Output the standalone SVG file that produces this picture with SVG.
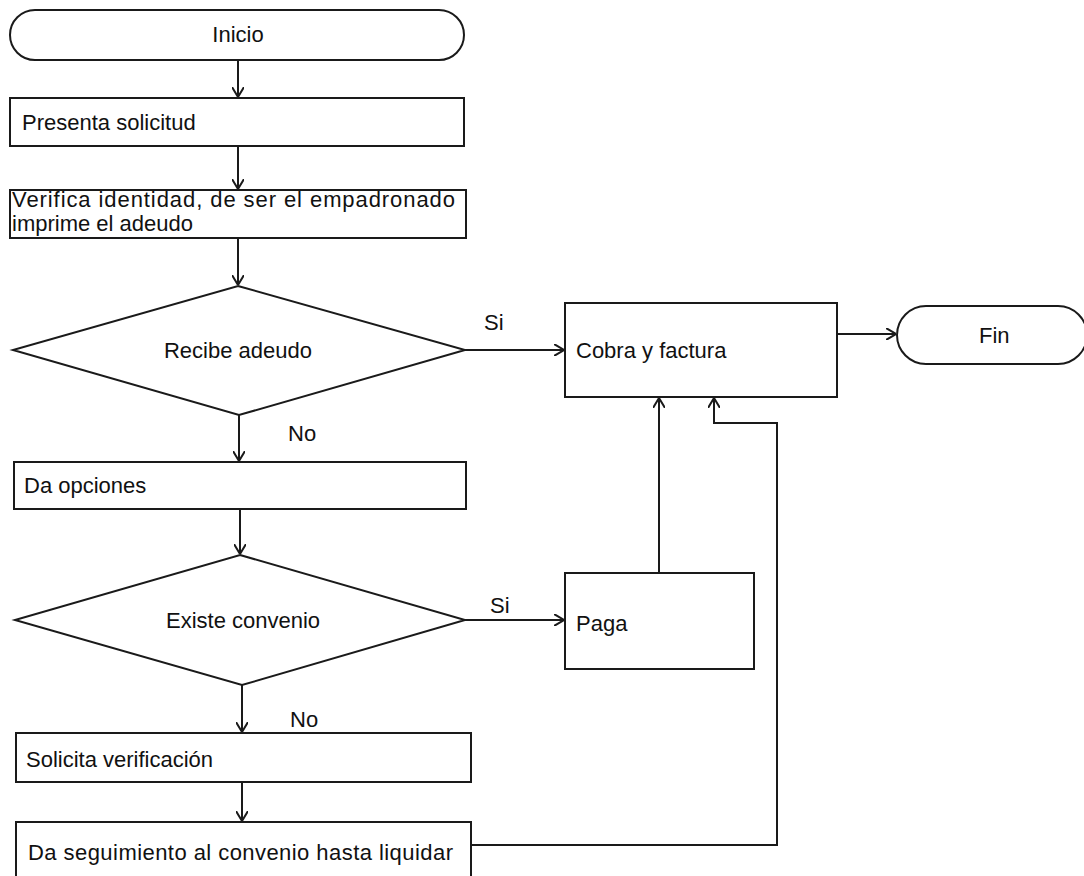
<svg xmlns="http://www.w3.org/2000/svg" width="1084" height="876" viewBox="0 0 1084 876">
<style>
.s{fill:#fff;stroke:#1a1a1a;stroke-width:2}
.c{fill:none;stroke:#1a1a1a;stroke-width:2}
.t{font-family:"Liberation Sans",Arial,sans-serif;font-size:22px;fill:#111}
.m{text-anchor:middle}
</style>
<defs>
<marker id="a" viewBox="0 0 10 12" refX="10" refY="6" markerWidth="10" markerHeight="12" markerUnits="userSpaceOnUse" orient="auto">
<path d="M0,0 L10,6 L0,12" fill="none" stroke="#1a1a1a" stroke-width="2"/>
</marker>
</defs>
<rect width="1084" height="876" fill="#fff"/>
<g id="connectors">
<line class="c" x1="238" y1="60" x2="238" y2="97" marker-end="url(#a)"/>
<line class="c" x1="238" y1="146" x2="238" y2="189" marker-end="url(#a)"/>
<line class="c" x1="238" y1="238" x2="238" y2="285" marker-end="url(#a)"/>
<line class="c" x1="239" y1="415" x2="239" y2="461" marker-end="url(#a)"/>
<line class="c" x1="240" y1="509" x2="240" y2="554" marker-end="url(#a)"/>
<line class="c" x1="242" y1="685" x2="242" y2="732" marker-end="url(#a)"/>
<line class="c" x1="242" y1="782" x2="242" y2="821" marker-end="url(#a)"/>
<line class="c" x1="465" y1="350" x2="564" y2="350" marker-end="url(#a)"/>
<line class="c" x1="465" y1="620" x2="564" y2="620" marker-end="url(#a)"/>
<line class="c" x1="659" y1="573" x2="659" y2="398" marker-end="url(#a)"/>
<line class="c" x1="837" y1="334" x2="896" y2="334" marker-end="url(#a)"/>
<polyline class="c" points="471,845 777,845 777,423 714,423 714,398" marker-end="url(#a)"/>
<text class="t" x="484" y="330">Si</text>
<text class="t" x="288" y="441">No</text>
<text class="t" x="490" y="613">Si</text>
<text class="t" x="290" y="727">No</text>
</g>
<g id="inicio">
<rect class="s" x="10" y="10" width="454" height="50" rx="25"/>
<text class="t m" x="238" y="42">Inicio</text>
</g>
<g id="presenta">
<rect class="s" x="10" y="98" width="454" height="48"/>
<text class="t" x="22" y="130">Presenta solicitud</text>
</g>
<g id="verifica">
<rect class="s" x="10" y="190" width="456" height="48"/>
<text class="t" x="12" y="207" textLength="443" lengthAdjust="spacing">Verifica identidad, de ser el empadronado</text>
<text class="t" x="12" y="231">imprime el adeudo</text>
</g>
<g id="recibe">
<polygon class="s" points="238,286 465,350 239,415 13,350"/>
<text class="t m" x="238" y="358">Recibe adeudo</text>
</g>
<g id="opciones">
<rect class="s" x="14" y="462" width="452" height="47"/>
<text class="t" x="24" y="493">Da opciones</text>
</g>
<g id="existe">
<polygon class="s" points="240,555 465,620 242,685 15,620"/>
<text class="t m" x="243" y="628">Existe convenio</text>
</g>
<g id="solicita">
<rect class="s" x="16" y="733" width="455" height="49"/>
<text class="t" x="26" y="767">Solicita verificación</text>
</g>
<g id="seguimiento">
<rect class="s" x="16" y="822" width="455" height="70"/>
<text class="t" x="28" y="860" textLength="425" lengthAdjust="spacing">Da seguimiento al convenio hasta liquidar</text>
</g>
<g id="cobra">
<rect class="s" x="565" y="303" width="272" height="94"/>
<text class="t" x="576" y="358">Cobra y factura</text>
</g>
<g id="paga">
<rect class="s" x="565" y="573" width="189" height="96"/>
<text class="t" x="576" y="631">Paga</text>
</g>
<g id="fin">
<rect class="s" x="897" y="306" width="190" height="58" rx="29"/>
<text class="t" x="979" y="343">Fin</text>
</g>
</svg>
